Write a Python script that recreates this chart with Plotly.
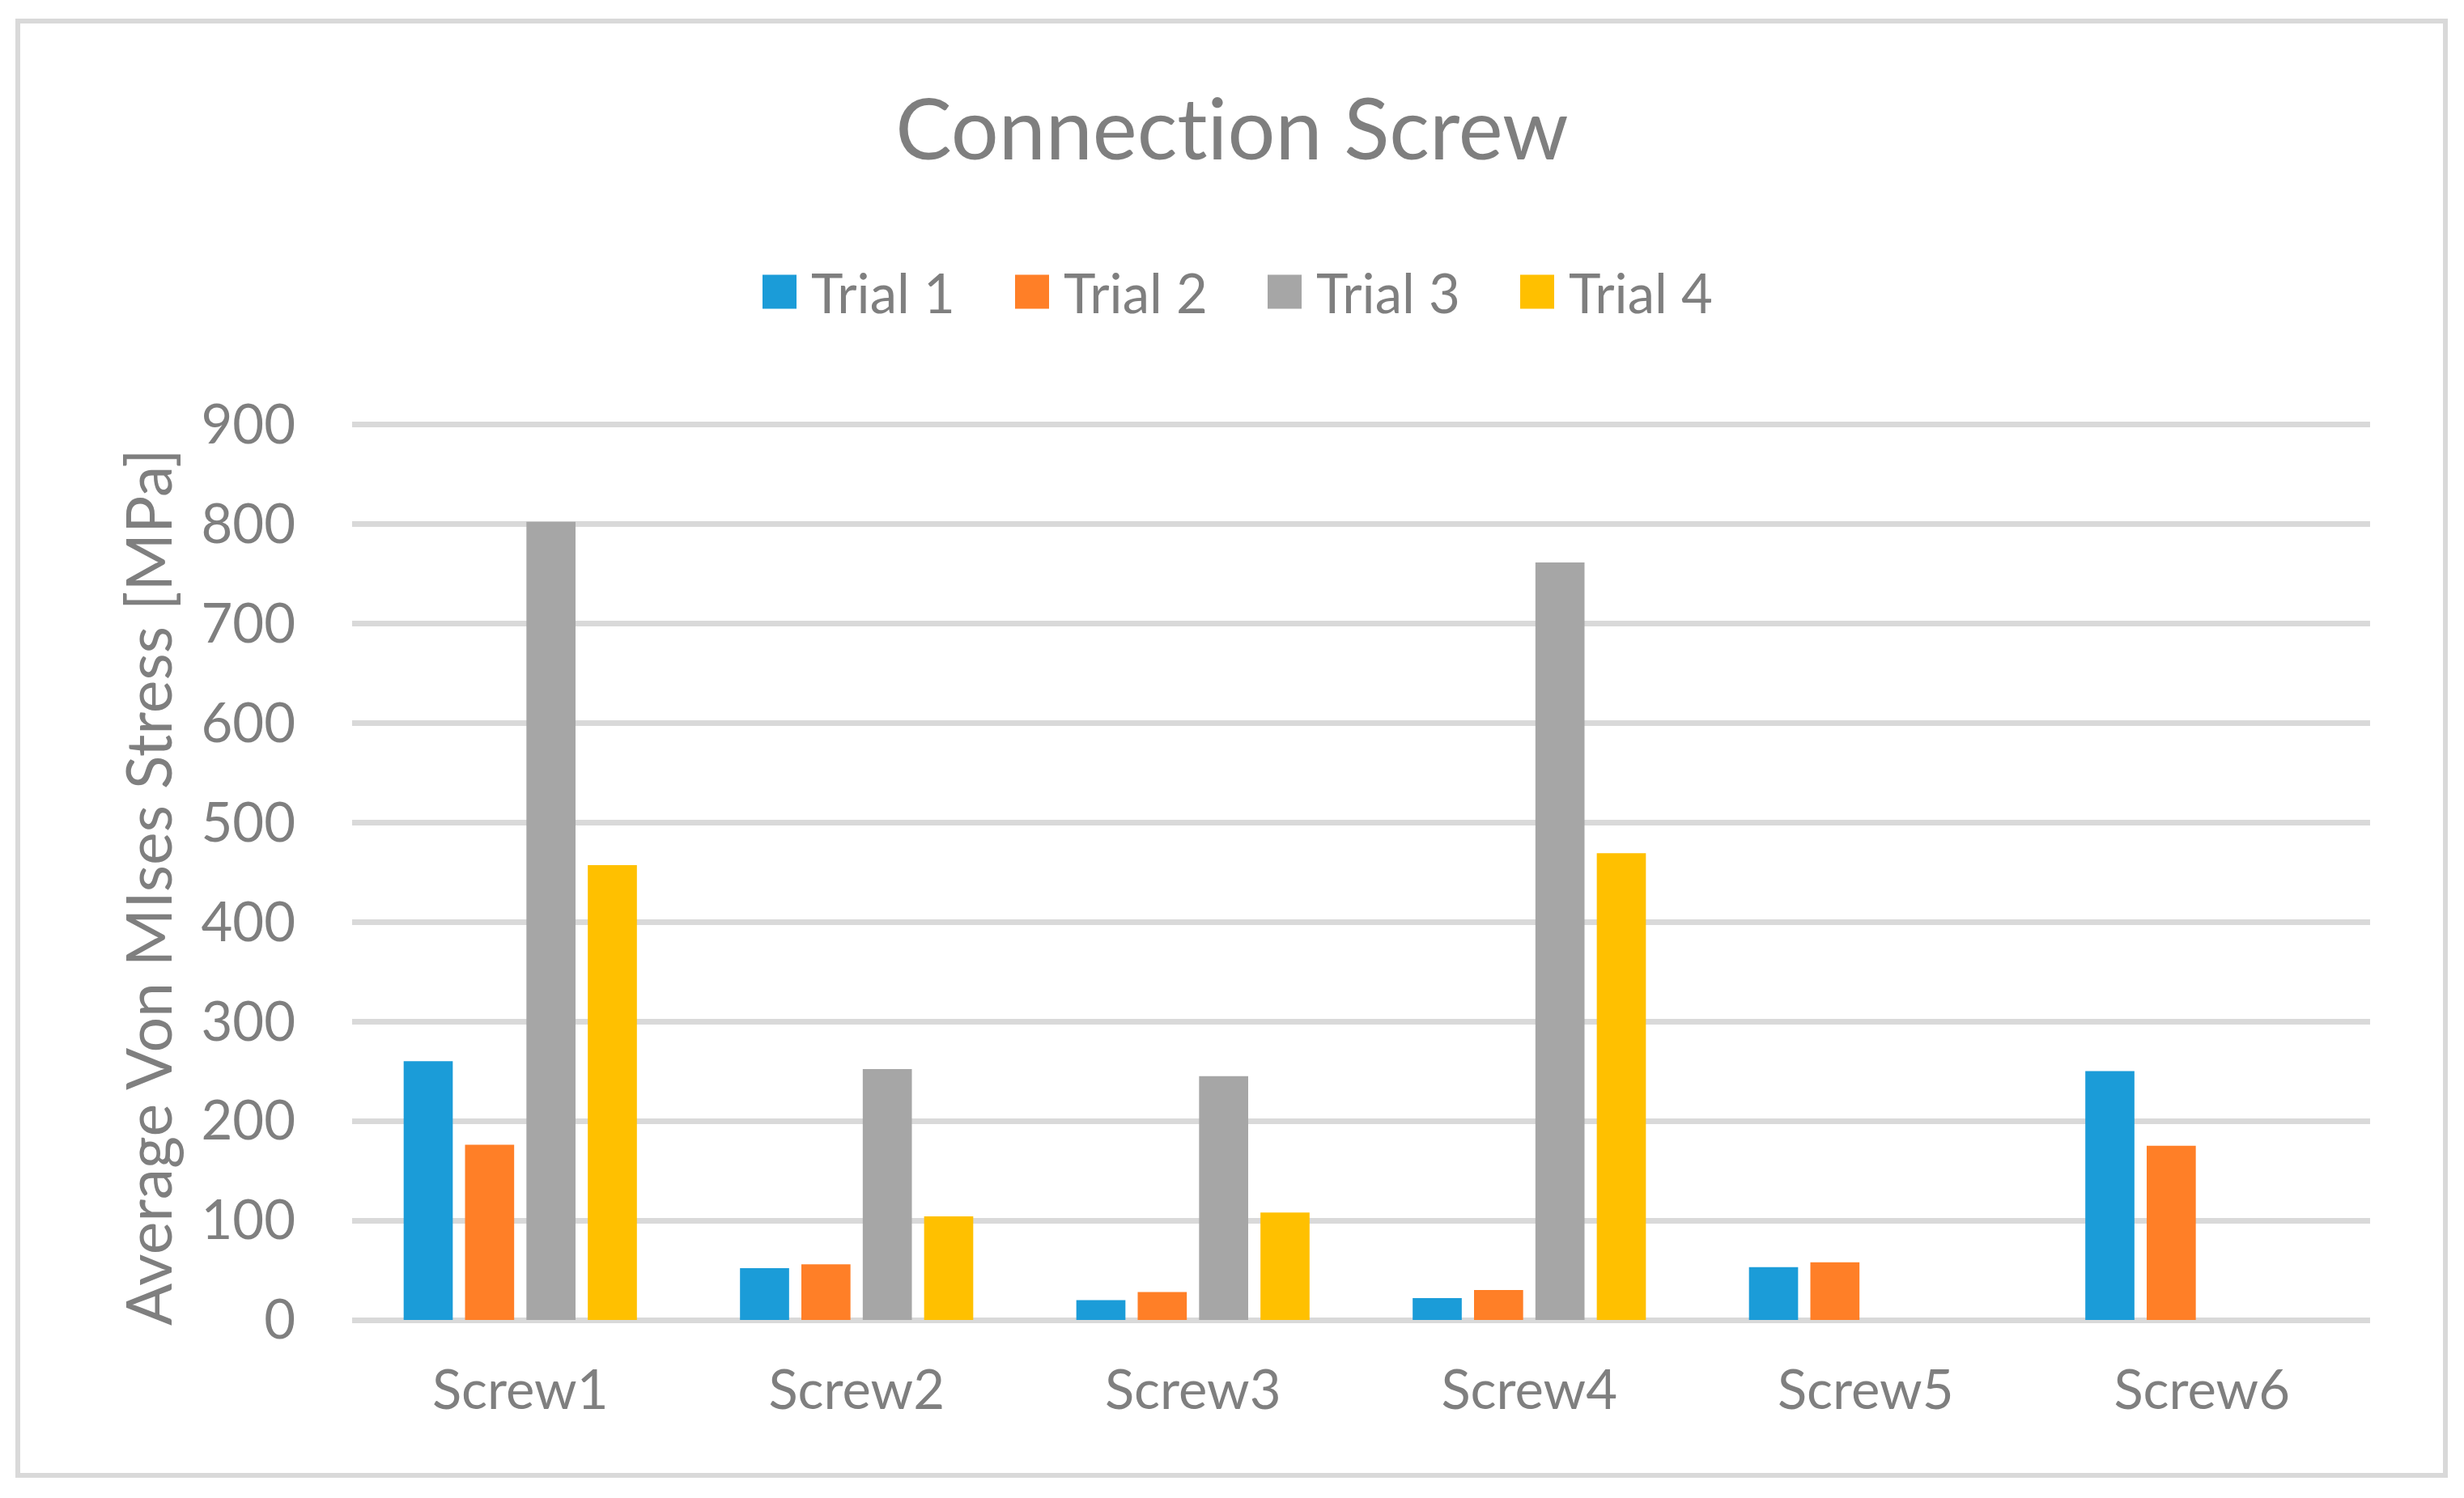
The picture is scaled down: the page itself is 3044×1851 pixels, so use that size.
import plotly.graph_objects as go

categories = ["Screw1", "Screw2", "Screw3", "Screw4", "Screw5", "Screw6"]
series_names = ["Trial 1", "Trial 2", "Trial 3", "Trial 4"]
trial1 = [260, 52, 20, 22, 53, 250]
trial2 = [176, 56, 28, 30, 58, 175]
trial3 = [802, 252, 245, 761, None, None]
trial4 = [457, 104, 108, 469, None, None]
y_ticks = [0, 100, 200, 300, 400, 500, 600, 700, 800, 900]

colors = ["#1B9CD8", "#FF7F27", "#A6A6A6", "#FFC000"]
TXT = "#7F7F7F"
FONT = "Lato, 'Open Sans', sans-serif"

W, H = 3044, 1851
L, R, T, B = 435, 116, 518, 220
pw, ph = W - L - R, H - T - B

def px_x(x):
    return (x - L) / pw

def px_y(y):
    return (H - B - y) / ph

fig = go.Figure()
for name, vals, c in zip(series_names, [trial1, trial2, trial3, trial4], colors):
    fig.add_trace(go.Bar(x=categories, y=vals, name=name, marker=dict(color=c, line=dict(width=0))))

fig.update_layout(
    width=W, height=H,
    margin=dict(l=L, r=R, t=T, b=B, autoexpand=False),
    paper_bgcolor="white", plot_bgcolor="white",
    barmode="group", bargap=0.27, bargroupgap=0.2,
    font=dict(family=FONT, color=TXT, size=67),
    title=dict(text="Connection Screw", x=0.5, xref="container", xanchor="center",
               y=1 - 161 / H, yref="container", yanchor="middle",
               font=dict(family=FONT, size=104, color=TXT)),
    legend=dict(orientation="h", x=px_x(924), xanchor="left", y=px_y(361), yanchor="middle",
                font=dict(family=FONT, size=67, color=TXT), itemwidth=68,
                entrywidth=229, entrywidthmode="pixels", traceorder="normal",
                bgcolor="rgba(0,0,0,0)"),
    showlegend=True,
)
fig.update_yaxes(range=[0, 905], tickvals=y_ticks, showgrid=True, gridcolor="#D9D9D9", gridwidth=7,
                 zeroline=True, zerolinecolor="#D9D9D9", zerolinewidth=7, showline=False,
                 ticks="", ticklabelstandoff=69, tickfont=dict(family=FONT, size=67, color=TXT))
fig.update_xaxes(showgrid=False, showline=False, ticks="", ticklabelstandoff=42,
                 tickfont=dict(family=FONT, size=67, color=TXT))

# y-axis title
fig.add_annotation(text="Average Von MIses Stress [MPa]", textangle=-90,
                   xref="paper", yref="paper", x=px_x(182), y=px_y(1097),
                   xanchor="center", yanchor="middle", showarrow=False,
                   font=dict(family=FONT, size=77, color=TXT))

# outer chart border
fig.add_shape(type="rect", xref="paper", yref="paper",
              x0=px_x(22), x1=px_x(3021), y0=px_y(1823), y1=px_y(26),
              line=dict(color="#D9D9D9", width=6), fillcolor="rgba(0,0,0,0)", layer="below")

post = """
document.body.style.margin = '0';
document.body.style.padding = '0';
var st = document.createElement('style');
st.textContent = 'text{font-variant-ligatures:none !important;}';
document.head.appendChild(st);
var gd = document.getElementById('{plot_id}');
function fixLegend(){
  document.querySelectorAll('.legendpoints path').forEach(function(p){
    var t = p.getAttribute('transform') || '';
    if (t.indexOf('scale') < 0) p.setAttribute('transform', t + ' scale(3.5)');
  });
}
fixLegend();
gd.on('plotly_afterplot', fixLegend);
"""
fig.write_html("out.html", post_script=post, config={"displayModeBar": False})
